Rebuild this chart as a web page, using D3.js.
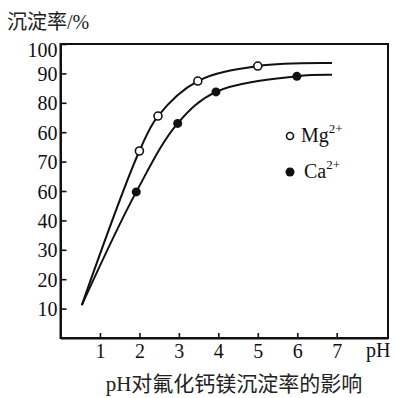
<!DOCTYPE html>
<html>
<head>
<meta charset="utf-8">
<script src="https://cdnjs.cloudflare.com/ajax/libs/d3/7.8.5/d3.min.js"></script>
<style>
  body { margin: 0; background: #fff; }
  svg { display: block; }
  .axis path, .axis line { stroke: #111; }
  .axis text { font-family: "Liberation Serif", "DejaVu Serif", serif; font-size: 20px; fill: #111; }
</style>
</head>
<body>
<div id="chart"></div>
<script>
// values
var xTicks = [1, 2, 3, 4, 5, 6, 7];
var yTicks = [100, 90, 80, 70, 60, 50, 40, 30, 20, 10];
// tick labels exactly as printed in the original figure
var yTickLabels = ["100", "90", "80", "60", "70", "60", "40", "30", "20", "10"];

// smooth curves (pH, rate)
var mgCurvePH = [0.54, 2.0, 2.47, 3.48, 5.0, 6.88];
var mgCurveRate = [11.2, 63.6, 75.5, 87.4, 92.5, 93.5];
var caCurvePH = [0.54, 1.92, 2.97, 3.94, 5.99, 6.88];
var caCurveRate = [11.2, 49.7, 73.0, 83.7, 89.0, 89.5];

// measured points
var mgPH = [2.0, 2.47, 3.48, 5.0];
var mgRate = [63.6, 75.5, 87.4, 92.5];
var caPH = [1.92, 2.97, 3.94, 5.99];
var caRate = [49.7, 73.0, 83.7, 89.0];

var width = 395;
var height = 398;
var margin = { top: 44, right: 7, bottom: 60, left: 60.5 };
var serif = "'Liberation Serif', 'Noto Sans CJK SC', serif";

var svg = d3.select("#chart")
    .append("svg")
    .attr("width", width)
    .attr("height", height);

var xScale = d3.scaleLinear()
    .domain([0, 8.3])
    .range([margin.left, width - margin.right]);

var yScale = d3.scaleLinear()
    .domain([0, 100])
    .range([height - margin.bottom, margin.top]);

// frame
svg.append("rect")
    .attr("x", xScale(0))
    .attr("y", yScale(100))
    .attr("width", xScale(8.3) - xScale(0))
    .attr("height", yScale(0) - yScale(100))
    .attr("fill", "none")
    .attr("stroke", "#111")
    .attr("stroke-width", 2);

var xAxis = svg.append("g")
    .attr("class", "axis")
    .attr("transform", `translate(0, ${yScale(0)})`)
    .call(d3.axisBottom(xScale)
        .tickValues(xTicks)
        .tickSizeInner(-5)
        .tickSizeOuter(0)
        .tickPadding(6)
        .tickFormat(d3.format("d")));
xAxis.select(".domain").attr("stroke-width", 2);
xAxis.selectAll("line").attr("stroke-width", 1.6);

var yAxis = svg.append("g")
    .attr("class", "axis")
    .attr("transform", `translate(${xScale(0)}, 0)`)
    .call(d3.axisLeft(yScale)
        .tickValues(yTicks)
        .tickSizeInner(-6)
        .tickSizeOuter(0)
        .tickPadding(3)
        .tickFormat(function (d, i) { return yTickLabels[i]; }));
yAxis.select(".domain").attr("stroke-width", 2);
yAxis.selectAll("line").attr("stroke-width", 1.6);
yAxis.selectAll("text").attr("dy", "0.35em");
// the top label sits a little below the frame line in the original
yAxis.selectAll("text").filter(function (d) { return d === 100; }).attr("dy", "0.6em");

// curves
var line = d3.line()
    .x(function (d) { return xScale(d[0]); })
    .y(function (d) { return yScale(d[1]); })
    .curve(d3.curveCatmullRom.alpha(0.5));

var mgCurve = d3.zip(mgCurvePH, mgCurveRate);
var caCurve = d3.zip(caCurvePH, caCurveRate);

[mgCurve, caCurve].forEach(function (c) {
    svg.append("path")
        .datum(c)
        .attr("d", line)
        .attr("fill", "none")
        .attr("stroke", "#111")
        .attr("stroke-width", 2);
});

// markers
svg.selectAll(".mg")
    .data(d3.zip(mgPH, mgRate))
    .enter()
    .append("circle")
    .attr("class", "mg")
    .attr("cx", function (d) { return xScale(d[0]); })
    .attr("cy", function (d) { return yScale(d[1]); })
    .attr("r", 4)
    .attr("fill", "#fff")
    .attr("stroke", "#111")
    .attr("stroke-width", 1.6);

svg.selectAll(".ca")
    .data(d3.zip(caPH, caRate))
    .enter()
    .append("circle")
    .attr("class", "ca")
    .attr("cx", function (d) { return xScale(d[0]); })
    .attr("cy", function (d) { return yScale(d[1]); })
    .attr("r", 4.5)
    .attr("fill", "#111");

// legend
var legend = svg.append("g")
    .style("font-family", serif)
    .style("font-size", "20px")
    .attr("fill", "#111");

legend.append("circle")
    .attr("cx", 290).attr("cy", 136).attr("r", 3.5)
    .attr("fill", "#fff").attr("stroke", "#111").attr("stroke-width", 1.6);
var mgText = legend.append("text").attr("x", 301).attr("y", 142);
mgText.append("tspan").text("Mg");
mgText.append("tspan").attr("dy", -9).style("font-size", "13px").text("2+");

legend.append("circle")
    .attr("cx", 290).attr("cy", 172).attr("r", 4.5)
    .attr("fill", "#111");
var caText = legend.append("text").attr("x", 304).attr("y", 178);
caText.append("tspan").text("Ca");
caText.append("tspan").attr("dy", -9).style("font-size", "13px").text("2+");

// axis titles
svg.append("text")
    .attr("x", 7)
    .attr("y", 29)
    .style("font-family", serif)
    .style("font-size", "20px")
    .attr("fill", "#222")
    .text("沉淀率/%");

svg.append("text")
    .attr("x", 366)
    .attr("y", 357)
    .style("font-family", serif)
    .style("font-size", "20px")
    .attr("fill", "#111")
    .text("pH");

svg.append("text")
    .attr("x", 234)
    .attr("y", 391)
    .attr("text-anchor", "middle")
    .style("font-family", serif)
    .style("font-size", "21px")
    .attr("fill", "#222")
    .text("pH对氟化钙镁沉淀率的影响");
</script>
</body>
</html>
